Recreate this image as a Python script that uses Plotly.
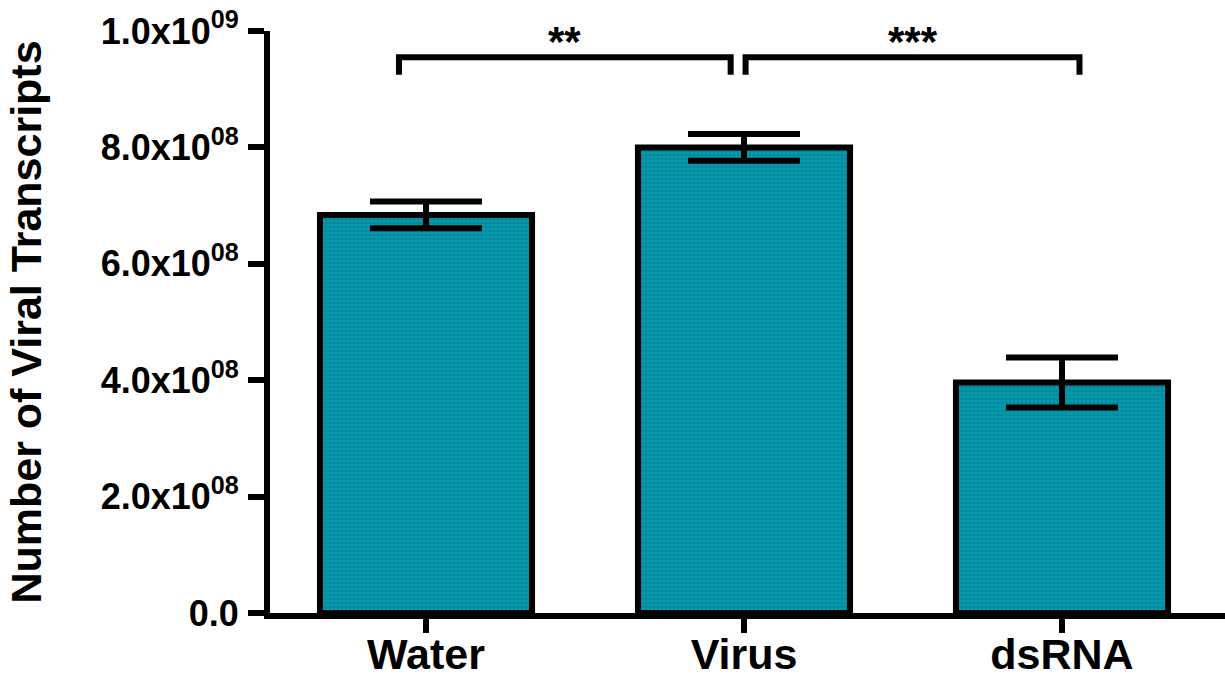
import plotly.graph_objects as go

# Viral transcript counts per treatment (mean ± SEM)
categories = ["Water", "Virus", "dsRNA"]
means = [6.84e8, 8.00e8, 3.96e8]
sem = [0.23e8, 0.23e8, 0.43e8]

# Y axis ticks
y_tickvals = [0, 2e8, 4e8, 6e8, 8e8, 1e9]
y_ticktext = ["0.0", "2.0x10<sup>08</sup>", "4.0x10<sup>08</sup>",
              "6.0x10<sup>08</sup>", "8.0x10<sup>08</sup>", "1.0x10<sup>09</sup>"]

# Significance comparisons: (first category index, second category index, label)
comparisons = [(0, 1, "**"), (1, 2, "***")]

FONT = "Arial, Liberation Sans, sans-serif"
BAR_FILL = "#008c9e"
DOT_FILL = "#14b0c6"

fig = go.Figure()
fig.add_trace(go.Bar(
    x=list(range(len(categories))),
    y=means,
    width=0.667,
    marker=dict(
        color=BAR_FILL,
        line=dict(color="black", width=6),
        pattern=dict(shape=".", fgcolor=DOT_FILL, size=4, solidity=0.3, fillmode="overlay"),
    ),
    error_y=dict(type="data", array=sem, visible=True, color="black", thickness=6, width=56),
    showlegend=False,
))

# Significance brackets
bracket_level = 9.55e8
leg_drop = 0.30e8
bracket_nudge = [(-0.085, -0.042), (0.005, 0.055)]
for (a, b, label), (n0, n1) in zip(comparisons, bracket_nudge):
    x0, x1 = a + n0, b + n1
    fig.add_shape(type="path",
                  path=f"M {x0} {bracket_level - leg_drop} L {x0} {bracket_level} "
                       f"L {x1} {bracket_level} L {x1} {bracket_level - leg_drop}",
                  line=dict(color="black", width=6), xref="x", yref="y")
    fig.add_annotation(x=(x0 + x1) / 2, y=bracket_level, text=label, showarrow=False,
                       xref="x", yref="y", yanchor="bottom", yshift=-10,
                       font=dict(family=FONT, size=42, color="black", weight="bold"))

fig.update_layout(
    width=1225, height=675,
    margin=dict(l=270, r=0, t=31, b=62),
    paper_bgcolor="white", plot_bgcolor="white",
    font=dict(family=FONT, color="black", weight="bold"),
    xaxis=dict(
        range=[-0.4906, 2.5126], automargin=False,
        tickvals=list(range(len(categories))), ticktext=categories,
        showline=True, linecolor="black", linewidth=6,
        ticks="outside", ticklen=14, tickwidth=6, tickcolor="black",
        ticklabelstandoff=-16,
        tickfont=dict(family=FONT, size=43, color="black", weight="bold"),
        showgrid=False, zeroline=False,
    ),
    yaxis=dict(
        range=[0, 1e9], automargin=False,
        tickvals=y_tickvals, ticktext=y_ticktext,
        showline=True, linecolor="black", linewidth=6,
        ticks="outside", ticklen=16, tickwidth=6, tickcolor="black",
        ticklabelstandoff=2,
        tickfont=dict(family=FONT, size=36, color="black", weight="bold"),
        showgrid=False, zeroline=False,
        title=dict(text="Number of Viral Transcripts", standoff=48,
                   font=dict(family=FONT, size=43, color="black", weight="bold")),
    ),
)

fig.write_html("out.html")
